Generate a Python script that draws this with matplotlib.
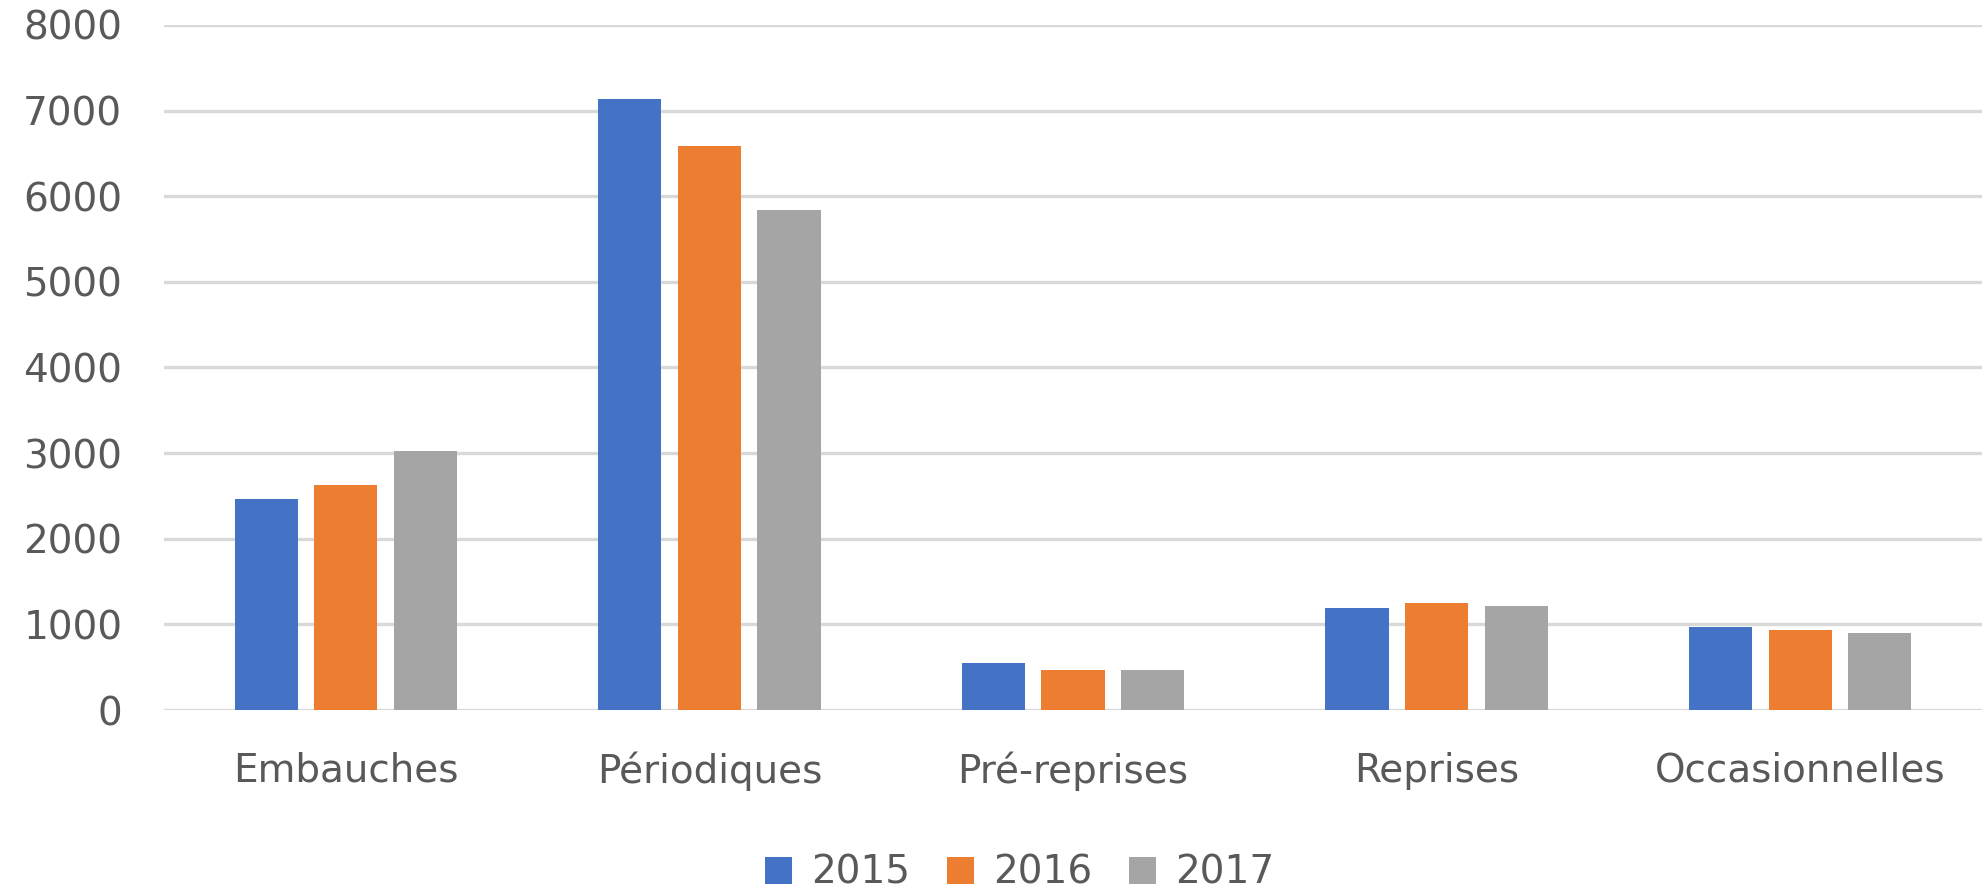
import matplotlib.pyplot as plt
import numpy as np
from matplotlib.patches import Patch

# values
categories = ['Embauches', 'Périodiques', 'Pré-reprises', 'Reprises', 'Occasionnelles']
years = ['2015', '2016', '2017']
values_2015 = [2460, 7130, 550, 1190, 970]
values_2016 = [2630, 6590, 470, 1250, 940]
values_2017 = [3030, 5840, 465, 1220, 905]
y_ticks = [0, 1000, 2000, 3000, 4000, 5000, 6000, 7000, 8000]

colors = ['#4472C4', '#ED7D31', '#A5A5A5']
text_color = '#595959'
grid_color = '#D9D9D9'

plt.rcParams['font.family'] = ['DejaVu Sans']

fig = plt.figure(figsize=(19.82, 8.92), dpi=100)
ax = fig.add_axes([164 / 1982, 1 - 710 / 892, 1 - 164 / 1982, (710 - 25) / 892])

x = np.arange(len(categories))
step = 0.219
width = 0.174
series = [values_2015, values_2016, values_2017]
for i, vals in enumerate(series):
    ax.bar(x + (i - 1) * step, vals, width=width, color=colors[i], zorder=3)

ax.set_xlim(-0.5, len(categories) - 0.5)
ax.set_ylim(0, 8000)
ax.set_yticks(y_ticks)
ax.set_yticklabels([str(t) for t in y_ticks])
ax.set_xticks(x)
ax.set_xticklabels(categories)

ax.yaxis.grid(True, color=grid_color, linewidth=2.4, zorder=0)
ax.set_axisbelow(True)
for s in ax.spines.values():
    s.set_visible(False)
ax.tick_params(axis='both', length=0, labelsize=28, colors=text_color)
ax.tick_params(axis='y', pad=30)
ax.tick_params(axis='x', pad=30)

handles = [Patch(facecolor=c, edgecolor='none') for c in colors]
fig.legend(handles, years, loc='center', bbox_to_anchor=(1020 / 1982, 1 - 873 / 892),
           ncol=3, frameon=False, fontsize=28, handlelength=0.68, handleheight=0.68,
           handletextpad=0.5, columnspacing=0.95, labelcolor=text_color)

fig.savefig('out.png', dpi=100)
